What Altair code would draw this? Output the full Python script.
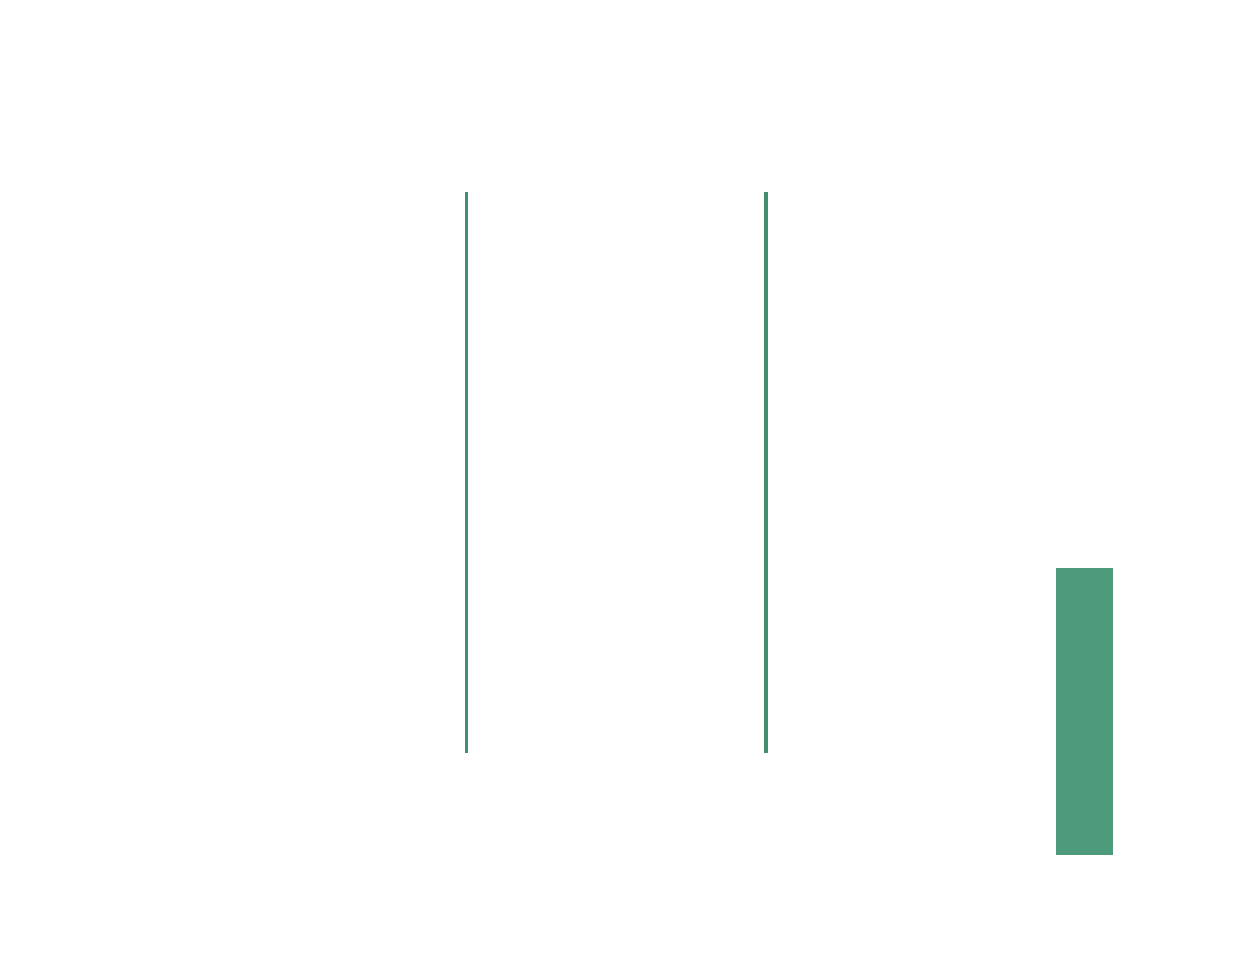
import altair as alt
import pandas as pd

# Data arrays
rule_x = [458.5, 758.0]
rule_y0 = [155, 155]
rule_y1 = [716, 716]
rule_w = [3, 4]

bar_x0 = [1048]
bar_x1 = [1105]
bar_y0 = [53]
bar_y1 = [340]

rules = pd.DataFrame({"x": rule_x, "y0": rule_y0, "y1": rule_y1, "w": rule_w})
bars = pd.DataFrame({"x0": bar_x0, "x1": bar_x1, "y0": bar_y0, "y1": bar_y1})

xs = alt.Scale(domain=[0, 1200], nice=False, zero=False)
ys = alt.Scale(domain=[0, 900], nice=False, zero=False)

rule_layer = alt.Chart(rules).mark_rule(color="#428f6f").encode(
    x=alt.X("x:Q", scale=xs, axis=None),
    y=alt.Y("y0:Q", scale=ys, axis=None),
    y2="y1:Q",
    strokeWidth=alt.StrokeWidth("w:Q", scale=None, legend=None),
)

bar_layer = alt.Chart(bars).mark_rect(color="#4d9b7a").encode(
    x=alt.X("x0:Q", scale=xs, axis=None),
    x2="x1:Q",
    y=alt.Y("y0:Q", scale=ys, axis=None),
    y2="y1:Q",
)

chart = alt.layer(rule_layer, bar_layer).properties(
    width=1200, height=900, padding=0,
    autosize=alt.AutoSizeParams(type="none"),
).configure_view(stroke=None)

chart.save("out.html", embed_options={"renderer": "svg", "actions": False})
